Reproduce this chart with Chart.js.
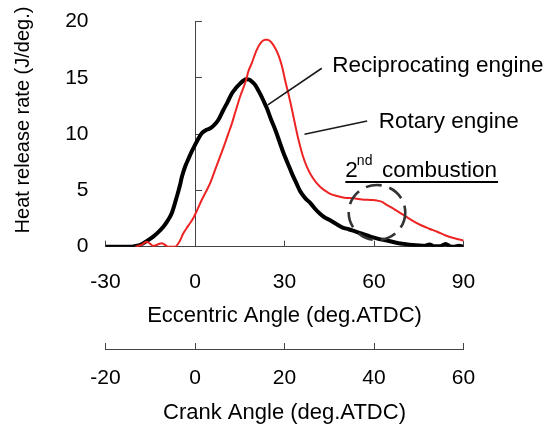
<!DOCTYPE html>
<html>
<head>
<meta charset="utf-8">
<script src="https://cdn.jsdelivr.net/npm/chart.js@4/dist/chart.umd.min.js"></script>
<style>
html,body{margin:0;padding:0;background:#fff;}
#wrap{width:555px;height:425px;position:relative;}
</style>
</head>
<body>
<div id="wrap"><canvas id="c" width="555" height="425"></canvas></div>
<script>
// ---- data ----
const eccentricTicks = [-30, 0, 30, 60, 90];
const crankTicks = [-20, 0, 20, 40, 60];
const heatTicks = [0, 5, 10, 15, 20];

const reciprocatingX = [-30,-25,-22,-20.5,-18.5,-16.2,-14,-12.3,-10.6,-9.2,-7.8,-6.1,-5,-4.5,-3.9,-3.2,-2.3,-1.2,0,1.1,2.25,3.6,5,6.4,7.8,9.5,11,12.3,13.7,15.1,16.2,17.1,18.2,19.2,20.2,21.8,23,24.1,25.5,26.9,28.3,29.7,31.1,32.5,33.9,35.3,37,38.6,40.3,42,43.5,45.3,47.5,49.5,51.5,53.2,56,58.8,61.5,64.4,67.5,70,73,75.6,77,78.6,80,82,84,85.5,87,88.5,90];
const reciprocatingY = [0,0,0,0.03,0.15,0.5,0.9,1.3,1.78,2.3,2.97,4.44,5.5,6.1,6.65,7.2,7.75,8.4,9.04,9.6,10.08,10.35,10.5,10.8,11.26,12.15,12.9,13.6,14.1,14.5,14.75,14.88,14.85,14.65,14.37,13.6,12.95,12.3,11.3,10.4,9.35,8.3,7.4,6.5,5.7,4.9,4.3,3.9,3.35,2.9,2.6,2.35,2.0,1.7,1.55,1.4,1.15,0.9,0.7,0.55,0.35,0.25,0.15,0.1,0.08,0.2,0.05,0.03,0.25,0.03,0,0.08,0];

const rotaryX = [-20,-18,-16.2,-15,-14,-12.5,-11.2,-10,-9,-6.7,-5,-3.9,-2.3,-0.6,0.8,2.25,3.6,5,6.7,8.4,9.8,11.2,12.3,13.4,15.1,17.1,17.9,19,20.7,22.3,23.5,24.3,25.5,27,28,29.2,30.2,31.4,32.5,33.6,34.7,36,37.5,39.5,42,45,47.6,50,53.2,56,59,61,62.5,64.4,67,70,73,75.6,78.5,81.2,84,87,90];
const rotaryY = [0,0.15,0.45,0.25,0.06,0.2,0.3,0.15,0,0,0.55,1.19,1.85,2.52,3.3,4.15,4.85,5.6,6.8,8.0,9.0,10.08,10.9,11.86,13.33,14.8,15.6,16.3,17.5,18.2,18.4,18.4,18.2,17.6,17.0,16.0,14.8,13.5,12.2,10.8,9.5,8.2,7.1,6.1,5.3,4.75,4.5,4.35,4.3,4.2,4.15,4.1,4.0,3.7,3.3,2.8,2.3,1.93,1.6,1.33,1.0,0.75,0.55];

const FONT = '"Liberation Sans", Arial, sans-serif';
Chart.defaults.font.family = FONT;
Chart.defaults.color = '#000';

const toPts = (xs, ys) => xs.map((v, i) => ({x: v, y: ys[i]}));

const annotations = {
  id: 'annotations',
  afterDatasetsDraw(chart) {
    const {ctx} = chart;
    const sx = chart.scales.x, sy = chart.scales.y;
    const P = (a, b) => [sx.getPixelForValue(a), sy.getPixelForValue(b)];
    const line = (p, q) => { ctx.beginPath(); ctx.moveTo(p[0], p[1]); ctx.lineTo(q[0], q[1]); ctx.stroke(); };
    ctx.save();
    // leader lines
    ctx.strokeStyle = '#1a1a1a';
    ctx.lineWidth = 1.6;
    line(P(42.5, 15.86), P(24.4, 12.6));
    line(P(57.7, 11.17), P(36.7, 9.99));
    // labels
    ctx.fillStyle = '#000';
    ctx.textAlign = 'left';
    ctx.textBaseline = 'alphabetic';
    ctx.font = '22.5px ' + FONT;
    let p = P(46.0, 15.56);
    ctx.fillText('Reciprocating engine', p[0], p[1]);
    p = P(61.6, 10.52);
    ctx.fillText('Rotary engine', p[0], p[1]);
    p = P(50.4, 6.22);
    ctx.fillText('2', p[0], p[1]);
    ctx.font = '14px ' + FONT;
    ctx.fillText('nd', p[0] + 11.5, p[1] - 11.5);
    ctx.font = '22.5px ' + FONT;
    ctx.fillText('combustion', p[0] + 36.7, p[1]);
    ctx.strokeStyle = '#000';
    ctx.lineWidth = 2;
    line([p[0], p[1] + 5.2], [p[0] + 152.7, p[1] + 5.2]);
    // dashed ellipse
    const c = P(61.0, 3.04);
    ctx.setLineDash([16, 8]);
    ctx.lineWidth = 2.6;
    ctx.strokeStyle = '#333';
    ctx.beginPath();
    ctx.ellipse(c[0], c[1], 28.3, 27.5, 0, 0, Math.PI * 2);
    ctx.stroke();
    ctx.setLineDash([]);
    // y axis title
    ctx.translate(23, 120);
    ctx.rotate(-Math.PI / 2);
    ctx.textAlign = 'center';
    ctx.textBaseline = 'middle';
    ctx.font = '20px ' + FONT;
    ctx.fillText('Heat release rate (J/deg.)', 0, 0);
    ctx.restore();
  }
};

new Chart(document.getElementById('c'), {
  type: 'line',
  data: {
    datasets: [
      {
        label: 'Rotary engine',
        data: toPts(rotaryX, rotaryY),
        borderColor: '#ee2424',
        borderWidth: 2,
        pointRadius: 0,
        cubicInterpolationMode: 'monotone',
        fill: false
      },
      {
        label: 'Reciprocating engine',
        data: toPts(reciprocatingX, reciprocatingY),
        borderColor: '#000',
        borderWidth: 4,
        pointRadius: 0,
        cubicInterpolationMode: 'monotone',
        fill: false
      }
    ]
  },
  options: {
    responsive: false,
    animation: false,
    devicePixelRatio: 1,
    events: [],
    layout: {padding: {top: 21.7, right: 91.5, bottom: 0, left: 0}},
    plugins: {legend: {display: false}, tooltip: {enabled: false}},
    scales: {
      x: {
        type: 'linear', position: 'bottom', weight: 1,
        min: -30, max: 90,
        afterBuildTicks: s => { s.ticks = eccentricTicks.map(v => ({value: v})); },
        afterFit: s => { s.height = 102.3; },
        ticks: {font: {size: 21}, color: '#000', padding: 28.6, autoSkip: false, maxRotation: 0},
        grid: {drawOnChartArea: false, tickLength: -6, color: '#444', tickWidth: 1},
        border: {display: true, color: '#444', width: 1},
        title: {display: true, text: 'Eccentric Angle (deg.ATDC)', font: {size: 22}, color: '#000', padding: {top: 0, bottom: 19.6}}
      },
      x2: {
        type: 'linear', position: 'bottom', weight: 2,
        min: -20, max: 60,
        afterBuildTicks: s => { s.ticks = crankTicks.map(v => ({value: v})); },
        afterFit: s => { s.height = 76; },
        ticks: {font: {size: 21}, color: '#000', padding: 22.3, autoSkip: false, maxRotation: 0},
        grid: {drawOnChartArea: false, tickLength: -6, color: '#444', tickWidth: 1},
        border: {display: true, color: '#444', width: 1},
        title: {display: true, text: 'Crank Angle (deg.ATDC)', font: {size: 22}, color: '#000', padding: {top: 0, bottom: -1}}
      },
      y: {
        type: 'linear', position: 'left',
        min: 0, max: 20,
        afterBuildTicks: s => { s.ticks = heatTicks.map(v => ({value: v})); },
        afterFit: s => { s.width = 105.5; s.paddingTop = 0; s.paddingBottom = 0; },
        ticks: {font: {size: 21}, color: '#000', padding: 17},
        grid: {drawOnChartArea: false, drawTicks: false},
        border: {display: false}
      },
      y0: {
        type: 'linear', position: {x: 0},
        min: 0, max: 20,
        afterBuildTicks: s => { s.ticks = heatTicks.map(v => ({value: v})); },
        afterFit: s => { s.paddingTop = 0; s.paddingBottom = 0; },
        ticks: {display: false},
        grid: {drawOnChartArea: false, tickLength: -7, color: '#444', tickWidth: 1},
        border: {display: true, color: '#444', width: 1}
      }
    }
  },
  plugins: [annotations]
});
</script>
</body>
</html>
